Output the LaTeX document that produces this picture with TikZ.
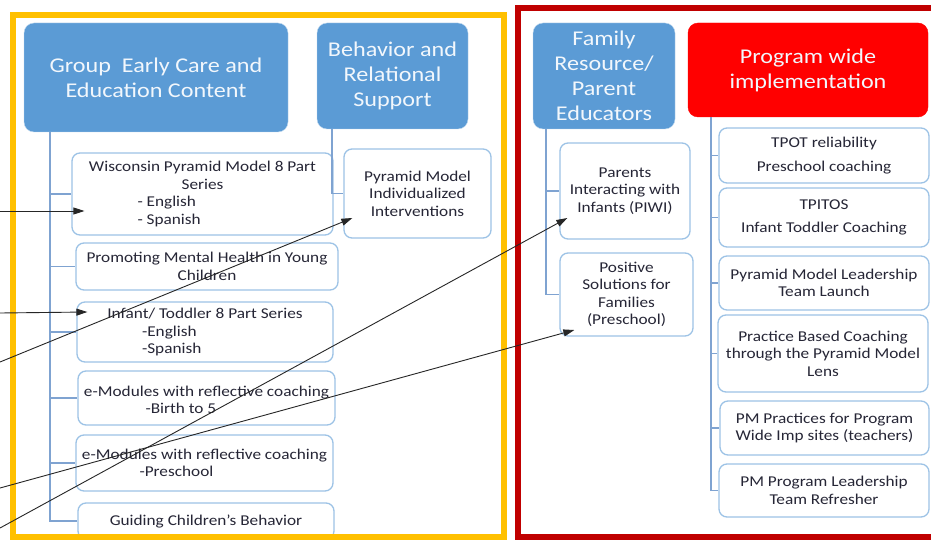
\documentclass[tikz,border=0pt]{standalone}
\usepackage{fontspec}
\setmainfont{Carlito}[FakeStretch=1.15]
\usetikzlibrary{arrows.meta,calc}
\definecolor{hdrblue}{HTML}{5B9BD5}
\definecolor{hdrred}{HTML}{FF0000}
\definecolor{boxline}{HTML}{9DC3E6}
\definecolor{treeline}{HTML}{7FA3D1}
\definecolor{txt}{HTML}{262636}
\definecolor{frameyellow}{HTML}{FFC000}
\definecolor{framered}{HTML}{C00000}

\begin{document}
\begin{tikzpicture}[x=1pt,y=-1pt,
  hdr/.style={draw=white!60!hdrblue, fill=hdrblue, rounded corners=10pt, text=white!92!hdrblue, align=center, inner sep=0pt, font=\fontsize{21}{25}\selectfont},
  item/.style={draw=boxline, line width=1.3pt, fill=white, rounded corners=8pt, text=txt, align=center, inner sep=0pt, font=\fontsize{15}{17.5}\selectfont},
  branch/.style={draw=treeline, line width=1.2pt},
  link/.style={draw=black!85, line width=0.9pt, -{Triangle[length=11pt,width=7pt]}}]
\useasboundingbox (0,0) rectangle (931,540);
\clip (0,0) rectangle (931,540);
\fill[white] (0,0) rectangle (931,540);
% headers
\node[hdr, minimum width=264pt, minimum height=109pt] (grp) at (156,77.5) {Group\ \ Early Care and\\Education Content};
\node[hdr, minimum width=151pt, minimum height=106pt] (beh) at (392.5,76) {Behavior and\\Relational\\Support};
\node[hdr, minimum width=142pt, minimum height=106pt] (fam) at (604,76) {Family\\Resource/\\Parent\\Educators};
\node[hdr, fill=hdrred, draw=hdrred, minimum width=240pt, minimum height=94pt] (prog) at (808,70) {Program wide\\implementation};
% group early care items
\node[item, minimum width=261pt, minimum height=82pt] (wisc) at (202.5,194) {Wisconsin Pyramid Model 8 Part\\Series\\\makebox[130pt][l]{- English}\\\makebox[130pt][l]{- Spanish}};
\node[item, minimum width=262pt, minimum height=47pt] (prom) at (207,266.5) {Promoting Mental Health in Young\\Children};
\node[item, minimum width=256pt, minimum height=60pt] (inf) at (205,332) {Infant/ Toddler 8 Part Series\\\makebox[126pt][l]{-English}\\\makebox[126pt][l]{-Spanish}};
\node[item, minimum width=257pt, minimum height=54pt] (emb) at (206.5,398) {\\[-3pt]e-Modules with reflective coaching\\\makebox[122pt][l]{-Birth to 5}};
\node[item, minimum width=257pt, minimum height=56pt] (emp) at (204.5,463) {e-Modules with reflective coaching\\\makebox[130pt][l]{-Preschool}};
\node[item, minimum width=256pt, minimum height=36pt] (guide) at (206,521) {Guiding Children’s Behavior};
% behavior item
\node[item, minimum width=147pt, minimum height=89pt] (pmi) at (417.5,193.5) {Pyramid Model\\Individualized\\Interventions};
% family items
\node[item, minimum width=130pt, minimum height=96pt] (piwi) at (625,191) {Parents\\Interacting with\\Infants (PIWI)};
\node[item, minimum width=133pt, minimum height=83pt] (psf) at (626.5,294.5) {Positive\\Solutions for\\Families\\(Preschool)};
% program wide items
\node[item, minimum width=210pt, minimum height=55pt] (tpot) at (824,155.5) {TPOT reliability\\[6pt]Preschool coaching};
\node[item, minimum width=210pt, minimum height=59pt] (tpitos) at (824,217.5) {TPITOS\\[6pt]Infant Toddler Coaching};
\node[item, minimum width=210pt, minimum height=54pt] (pml) at (824,283) {Pyramid Model Leadership\\Team Launch};
\node[item, minimum width=210pt, minimum height=77pt] (pbc) at (823,353.5) {Practice Based Coaching\\through the Pyramid Model\\Lens};
\node[item, minimum width=209pt, minimum height=54pt] (pmp) at (824.5,428) {PM Practices for Program\\Wide Imp sites (teachers)};
\node[item, minimum width=210pt, minimum height=53pt] (pmr) at (824,490.5) {PM Program Leadership\\Team Refresher};
% tree lines
\foreach \b in {wisc,prom,inf,emb,emp,guide} \draw[branch] ([xshift=-106pt]grp.south) |- (\b.west);
\draw[branch] ([xshift=-60.5pt]beh.south) |- (pmi.west);
\foreach \b in {piwi,psf} \draw[branch] ([xshift=-58pt]fam.south) |- (\b.west);
\foreach \b in {tpot,tpitos,pml,pbc,pmp,pmr} \draw[branch] ([xshift=-97pt]prog.south) |- (\b.west);
% frames
\draw[frameyellow, line width=6pt] (13,15) rectangle (504,537);
\draw[framered, line width=6pt] (518,8) rectangle (945,537);
% arrows from the left
\coordinate (in1) at (0,211);
\coordinate (in2) at (0,313);
\coordinate (in3) at (0,362);
\coordinate (in4) at (0,528);
\coordinate (in5) at (0,488);
\draw[link] (in1) -- ($(wisc.west)+(13,17)$);
\draw[link] (in2) -- ($(inf.west)+(11,-20)$);
\draw[link] (in3) -- ($(pmi.west)+(9,24.5)$);
\draw[link] (in4) -- ($(piwi.west)+(8,27)$);
\draw[link] (in5) -- ($(psf.west)+(15,35.5)$);
\end{tikzpicture}
\end{document}
